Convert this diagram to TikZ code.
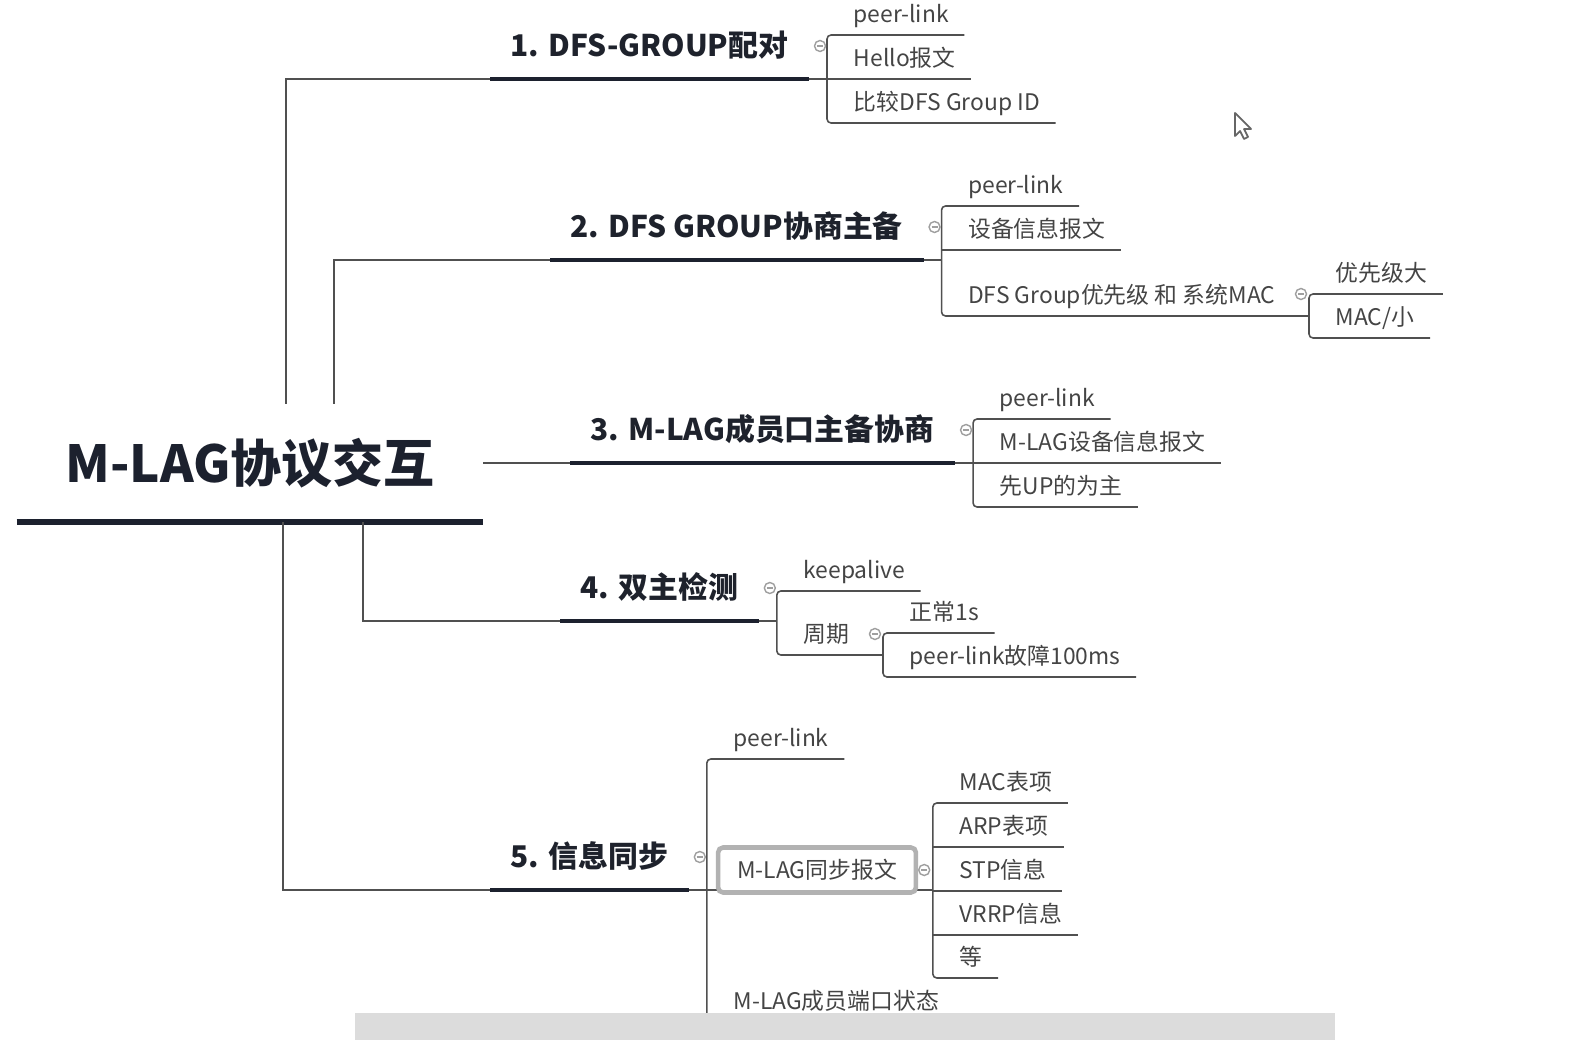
\documentclass[tikz,border=0pt]{standalone}
\usepackage{fontspec}
\setmainfont{Noto Sans CJK SC}
\usetikzlibrary{calc}
\definecolor{inkdark}{RGB}{28,33,46}
\definecolor{topictext}{RGB}{30,34,44}
\definecolor{leaftext}{RGB}{68,68,68}
\definecolor{linegray}{RGB}{80,80,80}
\definecolor{bargray}{RGB}{220,220,220}
\tikzset{
  root/.style={font=\fontsize{14.5}{17}\selectfont\bfseries, text=inkdark,
    minimum width=4.65cm, minimum height=1.17cm, inner sep=0},
  topic/.style={anchor=south west, font=\fontsize{8.5}{10}\selectfont\bfseries, text=topictext,
    inner xsep=0.2cm, inner ysep=0, text height=0.26cm, text depth=0.215cm},
  leaf/.style={anchor=south west, font=\fontsize{6.5}{8}\selectfont, text=leaftext,
    inner sep=0, text height=0.2cm, text depth=0.12cm,
    execute at begin node=\hspace*{0.26cm}, execute at end node=\hspace*{0.15cm}},
  msgbox/.style={anchor=west, font=\fontsize{6.5}{8}\selectfont, text=leaftext,
    draw=gray!60, line width=1.3pt, rounded corners=0.05cm, fill=white,
    inner xsep=0.19cm, minimum height=0.45cm},
  branch/.style={draw=linegray, line width=0.45pt},
  bracket/.style={branch, rounded corners=0.04cm},
  topicline/.style={draw=inkdark, line width=1.4pt},
  rootline/.style={draw=inkdark, line width=1.7pt},
  marker/.style={circle, draw=gray!75, fill=white, line width=0.4pt, minimum size=0.11cm, inner sep=0,
    path picture={\draw[gray!75, line width=0.3pt]
      ([xshift=-0.03cm]path picture bounding box.center) -- ([xshift=0.03cm]path picture bounding box.center);}},
}
\begin{document}
\begin{tikzpicture}[x=0.01cm, y=-0.01cm]
\useasboundingbox (0,0) rectangle (1576,1040);
% central topic
\node[root] (root) at (250,463) {\raisebox{-0.05cm}{M-LAG协议交互}};
\draw[rootline] (root.south west) -- (root.south east);
% main topics
\foreach \n/\x/\y/\lbl in {1/490/79/1. DFS-GROUP配对, 2/550/260/2. DFS GROUP协商主备,
    3/570/463/3. M-LAG成员口主备协商, 4/560/621/4. 双主检测, 5/490/890/5. 信息同步}{
  \node[topic] (t\n) at (\x,\y) {\lbl};
  \draw[topicline] (t\n.south west) -- (t\n.south east);
}
\draw[branch] ([xshift=2.69cm]root.north west) |- (t1.south west);
\draw[branch] ([xshift=3.17cm]root.north west) |- (t2.south west);
\draw[branch] (root.east) -- (t3.south west);
\draw[branch] ([xshift=3.46cm]root.south west) |- (t4.south west);
\draw[branch] ([xshift=2.66cm]root.south west) |- (t5.south west);

% 1
\foreach \n/\dy/\lbl in {a/-44/peer-link, b/0/Hello报文, c/44/比较DFS Group ID}
  \node[leaf] (b1\n) at ($(t1.south east)+(18,\dy)$) {\lbl};
\draw[branch] (t1.south east) -- (t1.south east -| b1a.south west);
\draw[bracket] (b1a.south east) -- (b1a.south west) -- (b1c.south west) -- (b1c.south east);
\draw[branch] (b1b.south west) -- (b1b.south east);

% 2
\foreach \n/\dy/\lbl in {a/-54/peer-link, b/-10/设备信息报文, c/56/DFS Group优先级 和 系统MAC}
  \node[leaf] (b2\n) at ($(t2.south east)+(18,\dy)$) {\lbl};
\draw[branch] (t2.south east) -- (t2.south east -| b2a.south west);
\draw[bracket] (b2a.south east) -- (b2a.south west) -- (b2c.south west) -- (b2c.south east);
\draw[branch] (b2b.south west) -- (b2b.south east);
\node[leaf] (s2a) at ($(b2c.south east)+(18,-22)$) {优先级大};
\node[leaf] (s2b) at ($(b2c.south east)+(18,22)$) {MAC/小};
\draw[branch] (b2c.south east) -- (b2c.south east -| s2a.south west);
\draw[bracket] (s2a.south east) -- (s2a.south west) -- (s2b.south west) -- (s2b.south east);

% 3
\foreach \n/\dy/\lbl in {a/-44/peer-link, b/0/M-LAG设备信息报文, c/44/先UP的为主}
  \node[leaf] (b3\n) at ($(t3.south east)+(18,\dy)$) {\lbl};
\draw[branch] (t3.south east) -- (t3.south east -| b3a.south west);
\draw[bracket] (b3a.south east) -- (b3a.south west) -- (b3c.south west) -- (b3c.south east);
\draw[branch] (b3b.south west) -- (b3b.south east);

% 4
\foreach \n/\dy/\lbl in {a/-30/keepalive, b/34/周期}
  \node[leaf] (b4\n) at ($(t4.south east)+(18,\dy)$) {\lbl};
\draw[branch] (t4.south east) -- (t4.south east -| b4a.south west);
\draw[bracket] (b4a.south east) -- (b4a.south west) -- (b4b.south west) -- (b4b.south east);
\node[leaf] (s4a) at ($(b4b.south east)+(18,-22)$) {正常1s};
\node[leaf] (s4b) at ($(b4b.south east)+(18,22)$) {peer-link故障100ms};
\draw[branch] (b4b.south east) -- (b4b.south east -| s4a.south west);
\draw[bracket] (s4a.south east) -- (s4a.south west) -- (s4b.south west) -- (s4b.south east);

% 5
\node[leaf] (b5a) at ($(t5.south east)+(18,-131)$) {peer-link};
\node[leaf] (b5c) at ($(t5.south east)+(18,132)$) {M-LAG成员端口状态};
\draw[bracket] (b5a.south east) -- (b5a.south west) -- (b5c.south west) -- (b5c.south east);
\foreach \n/\dy/\lbl in {a/-67/MAC表项, b/-23/ARP表项, c/21/STP信息, d/65/VRRP信息, e/108/等}
  \node[leaf] (s5\n) at ($(t5.south east)+(244,\dy-20)$) {\lbl};
\draw[branch] (t5.south east) -- (t5.south east -| s5a.south west);
\node[msgbox] (b5b) at ($(t5.south east)+(27,-20)$) {M-LAG同步报文};
\draw[bracket] (s5a.south east) -- (s5a.south west) -- (s5e.south west) -- (s5e.south east);
\foreach \n in {b,c,d}
  \draw[branch] (s5\n.south west) -- (s5\n.south east);

% collapse markers
\foreach \n in {1,...,5}
  \node[marker] (m\n) at ($(t\n.south east)+(11,-33)$) {};
\node[marker] (m2c) at ($(b2c.south east)+(10,-22)$) {};
\node[marker] (m4b) at ($(b4b.south east)+(10,-21)$) {};
\node[marker] (m5b) at ($(b5b.east)+(6,0)$) {};

% scroll bar and pointer
\fill[bargray] (355,1013) rectangle (1335,1040);
\draw[gray!80!black, line width=0.5pt, fill=white, line join=round]
  (1235,113) -- (1235,136) -- (1240,131) -- (1244,139) -- (1248,137) -- (1244,129) -- (1251,129) -- cycle;
\end{tikzpicture}
\end{document}
